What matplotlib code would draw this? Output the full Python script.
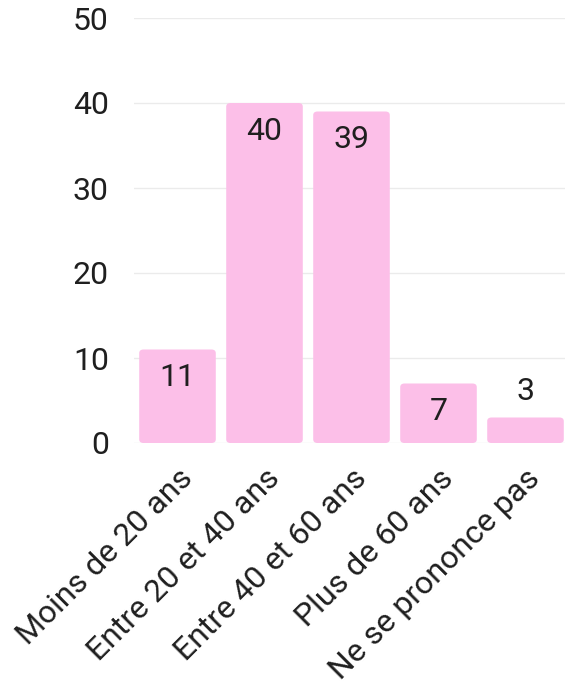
import matplotlib.pyplot as plt
from matplotlib.patches import FancyBboxPatch

plt.rcParams["font.family"] = ["Roboto", "DejaVu Sans"]

categories = ["Moins de 20 ans", "Entre 20 et 40 ans", "Entre 40 et 60 ans",
              "Plus de 60 ans", "Ne se prononce pas"]
values = [11, 40, 39, 7, 3]
y_ticks = [0, 10, 20, 30, 40, 50]

PINK = "#fcbfe8"
INK = "#1f1f1f"

fig = plt.figure(figsize=(5.65, 7.0), dpi=100)
ax = fig.add_axes([134 / 565, 1 - 443 / 700, 435 / 565, 425 / 700])

bars = ax.bar(range(len(values)), values, width=0.88, color=PINK, zorder=2)

# swap the plain rectangles for ones with slightly rounded corners
for b in bars:
    b.set_visible(False)
    p = FancyBboxPatch((b.get_x(), b.get_y()), b.get_width(), b.get_height(),
                       boxstyle="round,pad=0,rounding_size=0.05",
                       mutation_aspect=8.5,
                       facecolor=PINK, edgecolor="none", zorder=2)
    ax.add_patch(p)

for i, v in enumerate(values):
    if v >= 5:
        ax.text(i, v - 1.6, str(v), ha="center", va="top", fontsize=23, color=INK, zorder=3)
    else:
        ax.text(i, v + 1.4, str(v), ha="center", va="bottom", fontsize=23, color=INK, zorder=3)

ax.set_xlim(-0.5, len(values) - 0.5)
ax.set_ylim(0, 50)
ax.set_yticks(y_ticks)
ax.set_yticklabels([str(t) for t in y_ticks])
ax.set_xticks(range(len(values)))
ax.set_xticklabels(categories, rotation=45, ha="right", rotation_mode="anchor")
ax.tick_params(axis="y", length=0, pad=18, labelsize=23, labelcolor=INK)
ax.tick_params(axis="x", length=0, pad=15, labelsize=23, labelcolor=INK)
ax.grid(axis="y", color="#ebebeb", linewidth=1, zorder=0)
for s in ax.spines.values():
    s.set_visible(False)

fig.savefig("out.png", dpi=100)
